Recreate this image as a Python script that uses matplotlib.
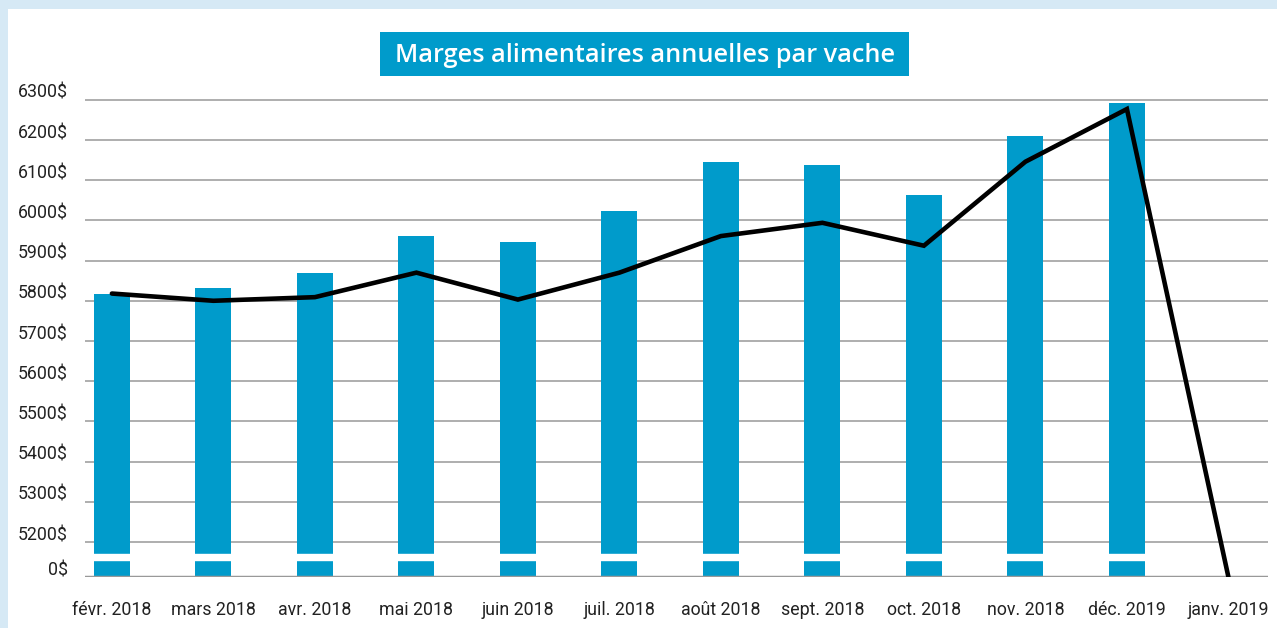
import numpy as np
import matplotlib
matplotlib.use('Agg')
import matplotlib.pyplot as plt
import matplotlib.transforms as mtransforms
from matplotlib.patches import Rectangle

months = ['févr. 2018', 'mars 2018', 'avr. 2018', 'mai 2018', 'juin 2018',
          'juil. 2018', 'août 2018', 'sept. 2018', 'oct. 2018', 'nov. 2018',
          'déc. 2019', 'janv. 2019']
bars = [5818, 5833, 5870, 5960, 5945, 6024, 6146, 6139, 6062, 6209, 6292, 0]
line = [5818, 5800, 5809, 5870, 5803, 5870, 5961, 5994, 5937, 6146, 6277, 0]
yticks = [0, 5200, 5300, 5400, 5500, 5600, 5700, 5800, 5900, 6000, 6100, 6200, 6300]
title = 'Marges alimentaires annuelles par vache'

BLUE = '#009bcb'
W, H = 1277, 628

# broken y axis: 0..5200 squeezed into a short segment
BRK = 5200
LOW = 0.872


def fwd(v):
    v = np.asarray(v, dtype=float)
    return np.where(v < BRK, v / BRK * LOW, LOW + (v - BRK) / 100.0)


def inv(u):
    u = np.asarray(u, dtype=float)
    return np.where(u < LOW, u / LOW * BRK, BRK + (u - LOW) * 100.0)


plt.rcParams['font.family'] = ['Roboto', 'DejaVu Sans']

fig = plt.figure(figsize=(W / 100, H / 100), dpi=100)
fig.patch.set_facecolor('#d6e9f5')
fig.patches.append(Rectangle((8 / W, 0), 1 - 8 / W, 1 - 9 / H, transform=fig.transFigure,
                             facecolor='white', edgecolor='none', zorder=-10))

# title box
fig.patches.append(Rectangle((380 / W, 1 - 76 / H), 529 / W, 44 / H, transform=fig.transFigure,
                             facecolor=BLUE, edgecolor='none'))
fig.text(645 / W, 1 - 56 / H, title, color='white', fontsize=18.2, fontweight='semibold',
         family=['Open Sans', 'DejaVu Sans'], ha='center', va='center')

ax = fig.add_axes([85 / W, 1 - 577 / H, (1268 - 85) / W, (577 - 99) / H])
ax.set_facecolor('none')
ax.set_yscale('function', functions=(fwd, inv))

x = np.arange(len(months))
ax.bar(x, bars, width=0.355, color=BLUE, zorder=2)
ax.axhspan(2520, 3410, color='white', zorder=2.5)
ax.plot(x, line, color='black', lw=3.3, zorder=3,
        solid_joinstyle='miter', solid_capstyle='round')

ax.set_xlim(-0.265, 11.39)
ax.set_ylim(0, 6302)

for t in yticks[1:]:
    ax.axhline(t, color='#a8a8a8', lw=1.3, zorder=1)
ax.axhline(0, color='#999999', lw=2.5, zorder=2.6)

for s in ax.spines.values():
    s.set_visible(False)

ax.set_yticks(yticks)
ax.set_yticklabels([f'{t}$' for t in yticks])
ax.set_xticks(x)
ax.set_xticklabels(months)
ax.tick_params(axis='both', length=0, labelsize=12.8, labelcolor='#222222')
ax.tick_params(axis='y', pad=12.5)
ax.tick_params(axis='x', pad=17.5)
lift = mtransforms.ScaledTranslation(0, 1.4 / 72, fig.dpi_scale_trans)
for lab in ax.get_yticklabels():
    lab.set_verticalalignment('baseline')
    lab.set_transform(lab.get_transform() + lift)

fig.savefig('out.png', dpi=100)
